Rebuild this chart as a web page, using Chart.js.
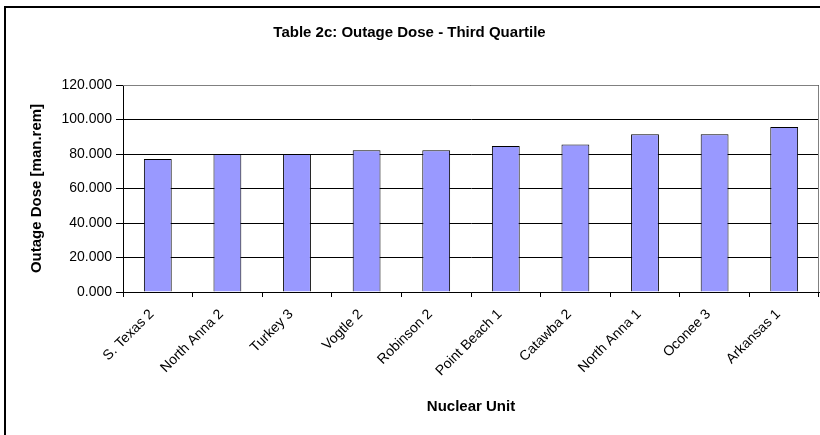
<!DOCTYPE html>
<html>
<head>
<meta charset="utf-8">
<script src="https://cdn.jsdelivr.net/npm/chart.js@4"></script>
<style>
    html, body { margin: 0; padding: 0; background: #fff; overflow: hidden; }
    #wrap { position: relative; width: 820px; height: 435px; }
    #frame { position: absolute; left: 4px; top: 6px; width: 900px; height: 600px; border-left: 2px solid #000; border-top: 2px solid #000; }
    #c { position: absolute; left: 0; top: 0; }
</style>
</head>
<body>
<div id="wrap">
    <div id="frame"></div>
    <canvas id="c" width="820" height="435"></canvas>
</div>
<script>
const units = ['S. Texas 2', 'North Anna 2', 'Turkey 3', 'Vogtle 2', 'Robinson 2', 'Point Beach 1', 'Catawba 2', 'North Anna 1', 'Oconee 3', 'Arkansas 1']
const dose = [77.1, 80.0, 80.0, 82.2, 82.2, 84.7, 85.5, 91.5, 91.5, 95.6]
const yTicks = [0, 20, 40, 60, 80, 100, 120]

Chart.defaults.font.family = 'Arial, "Liberation Sans", sans-serif'
Chart.defaults.color = '#000'

// grey box on top and right of the plot, like Excel
const plotBox = {
    id: 'plotBox',
    afterDraw(chart) {
        const { ctx, chartArea: a } = chart
        ctx.save()
        ctx.strokeStyle = '#808080'
        ctx.lineWidth = 1
        ctx.beginPath()
        ctx.moveTo(a.left, a.top + 0.5)
        ctx.lineTo(a.right - 0.5, a.top + 0.5)
        ctx.lineTo(a.right - 0.5, a.bottom)
        ctx.stroke()
        ctx.restore()
    }
}

var ctx = document.getElementById('c')
var myChart = new Chart(ctx, {
    type: 'bar',
    data: {
        labels: units,
        datasets: [{
            data: dose,
            backgroundColor: '#9999FF',
            borderColor: '#000',
            borderWidth: 1,
            barPercentage: 0.4,
            categoryPercentage: 1
        }]
    },
    options: {
        responsive: false,
        animation: false,
        devicePixelRatio: 1,
        layout: { padding: { left: 0, right: 1, top: 0, bottom: 0 } },
        plugins: {
            legend: { display: false },
            tooltip: { enabled: false },
            title: {
                display: true,
                text: 'Table 2c: Outage Dose - Third Quartile',
                font: { size: 15, weight: 'bold' },
                padding: { top: 24, bottom: 43 }
            }
        },
        scales: {
            x: {
                grid: { offset: true, drawOnChartArea: false, drawTicks: true, tickLength: 5, color: '#000' },
                border: { color: '#000' },
                ticks: { font: { size: 14 }, minRotation: 45, maxRotation: 45, padding: 9, labelOffset: -6 },
                title: { display: true, text: 'Nuclear Unit', font: { size: 15, weight: 'bold' }, padding: { top: 0, bottom: 19 } },
                afterFit: s => { s.height = 143 }
            },
            y: {
                min: 0,
                max: 120,
                afterBuildTicks: s => { s.ticks = yTicks.map(v => ({ value: v })) },
                grid: { color: '#000', tickLength: 7, drawTicks: true },
                border: { color: '#000' },
                ticks: { font: { size: 14 }, padding: 4, callback: v => v.toFixed(3) },
                title: { display: true, text: 'Outage Dose [man.rem]', font: { size: 15, weight: 'bold' }, padding: { top: 28, bottom: 0 } },
                afterFit: s => { s.width = 123 }
            }
        }
    },
    plugins: [plotBox]
})
</script>
</body>
</html>
